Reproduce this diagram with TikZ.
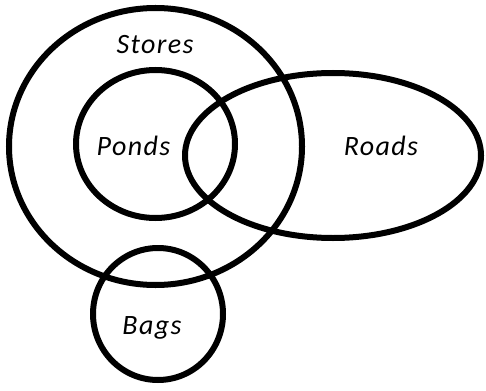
\documentclass[tikz,border=0pt]{standalone}
\usepackage{fontspec}
\setmainfont{Carlito}[LetterSpace=5]
\begin{document}
\begin{tikzpicture}[x=1pt,y=-1pt,
  set/.style={draw=black,line width=6pt},
  lbl/.style={font=\fontsize{28}{32}\selectfont\itshape,inner sep=0pt}]
\useasboundingbox (0,0) rectangle (486,390);
\draw[set] (155.5,146.5) ellipse [x radius=146.5,y radius=138.5];
\draw[set] (155.5,144) ellipse [x radius=79.5,y radius=74];
\draw[set] (333,155.5) ellipse [x radius=148,y radius=82.5];
\draw[set] (158,314) ellipse [x radius=65,y radius=66];
\node[lbl] (stores) at (155,45) {Stores};
\node[lbl] (ponds) at (133.5,146) {Ponds};
\node[lbl] (roads) at (381,146) {Roads};
\node[lbl] (bags) at (152,328) {Bags};
\end{tikzpicture}
\end{document}
